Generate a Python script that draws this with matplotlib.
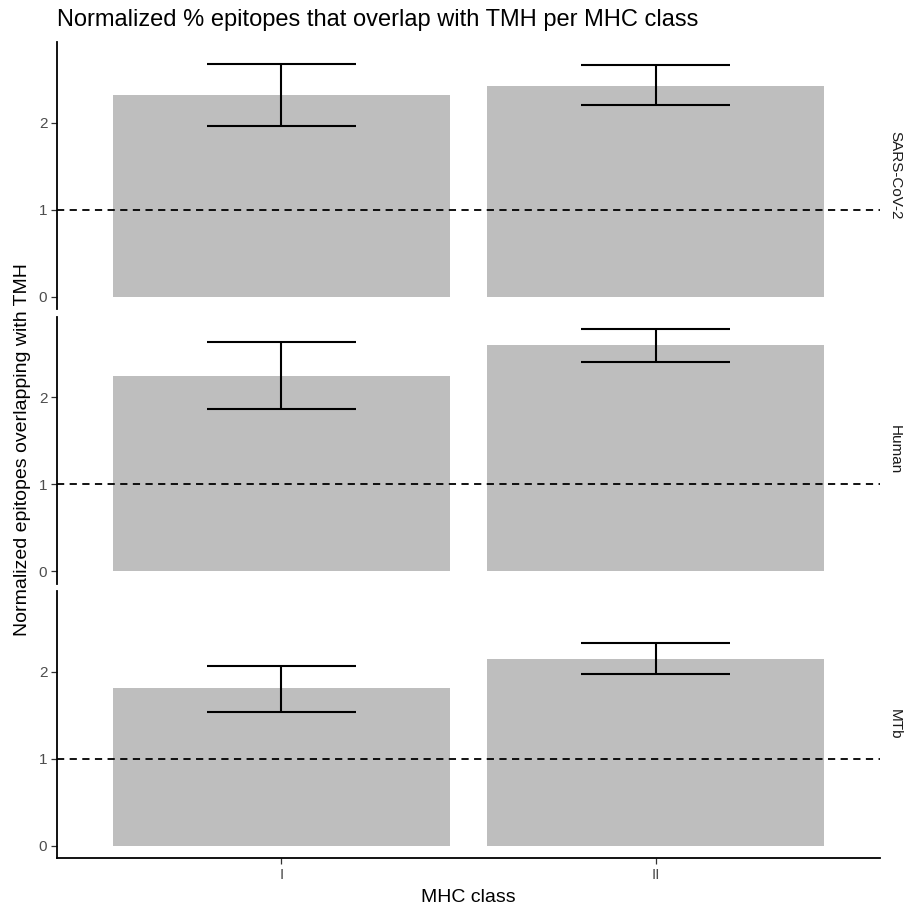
import numpy as np
import matplotlib.pyplot as plt

plt.rcParams['font.family'] = ['Liberation Sans', 'DejaVu Sans']

organisms = ["SARS-CoV-2", "Human", "MTb"]
mhc_classes = ["I", "II"]
norm_mean = [[2.32, 2.42], [2.25, 2.60], [1.81, 2.15]]
err_low = [[1.96, 2.20], [1.87, 2.41], [1.54, 1.98]]
err_high = [[2.68, 2.66], [2.64, 2.79], [2.07, 2.33]]

W, H = 906, 907
fig = plt.figure(figsize=(W / 100, H / 100), dpi=100)

left, right = 57, 880
top, bottom = 42, 858
gap = 7.5
ph = (bottom - top - 2 * gap) / 3

ymax = max(max(r) for r in err_high)
ylim = (-0.05 * ymax, ymax * 1.05)
x = np.arange(1, len(mhc_classes) + 1)

for i, org in enumerate(organisms):
    y0 = top + i * (ph + gap)
    ax = fig.add_axes([left / W, 1 - (y0 + ph) / H, (right - left) / W, ph / H])
    ax.bar(x, norm_mean[i], width=0.9, color='#BEBEBE', zorder=1)
    lo = np.array(err_low[i])
    hi = np.array(err_high[i])
    ax.vlines(x, lo, hi, color='black', lw=1.5, zorder=2)
    ax.hlines(lo, x - 0.2, x + 0.2, color='black', lw=1.5, zorder=2)
    ax.hlines(hi, x - 0.2, x + 0.2, color='black', lw=1.5, zorder=2)
    ax.axhline(1, color='black', lw=1.3, ls=(0, (4, 3)), zorder=3)
    ax.set_xlim(0.4, 2.6)
    ax.set_ylim(*ylim)
    ax.set_yticks([0, 1, 2])
    for s in ['top', 'right']:
        ax.spines[s].set_visible(False)
    ax.spines['left'].set_linewidth(1.3)
    ax.tick_params(axis='y', length=4, width=0.9, color='#333333',
                   labelsize=11, labelcolor='#4D4D4D', pad=3)
    if i < len(organisms) - 1:
        ax.spines['bottom'].set_visible(False)
        ax.set_xticks([])
    else:
        ax.spines['bottom'].set_linewidth(1.3)
        ax.set_xticks(x)
        ax.set_xticklabels(mhc_classes)
        ax.tick_params(axis='x', length=4, width=0.9, color='#333333',
                       labelsize=11, labelcolor='#4D4D4D', pad=3)
        ax.set_xlabel("MHC class", fontsize=14, labelpad=5)
    ax.text(1.01, 0.5, org, transform=ax.transAxes, rotation=-90,
            ha='left', va='center', fontsize=11, color='#1A1A1A')

fig.text(left / W, 1 - 20 / H, "Normalized % epitopes that overlap with TMH per MHC class",
         fontsize=17, ha='left', va='center')
fig.text(23 / W, 1 - ((top + bottom) / 2) / H, "Normalized epitopes overlapping with TMH",
         fontsize=14, rotation=90, ha='center', va='center')

fig.savefig("out.png", dpi=100)
